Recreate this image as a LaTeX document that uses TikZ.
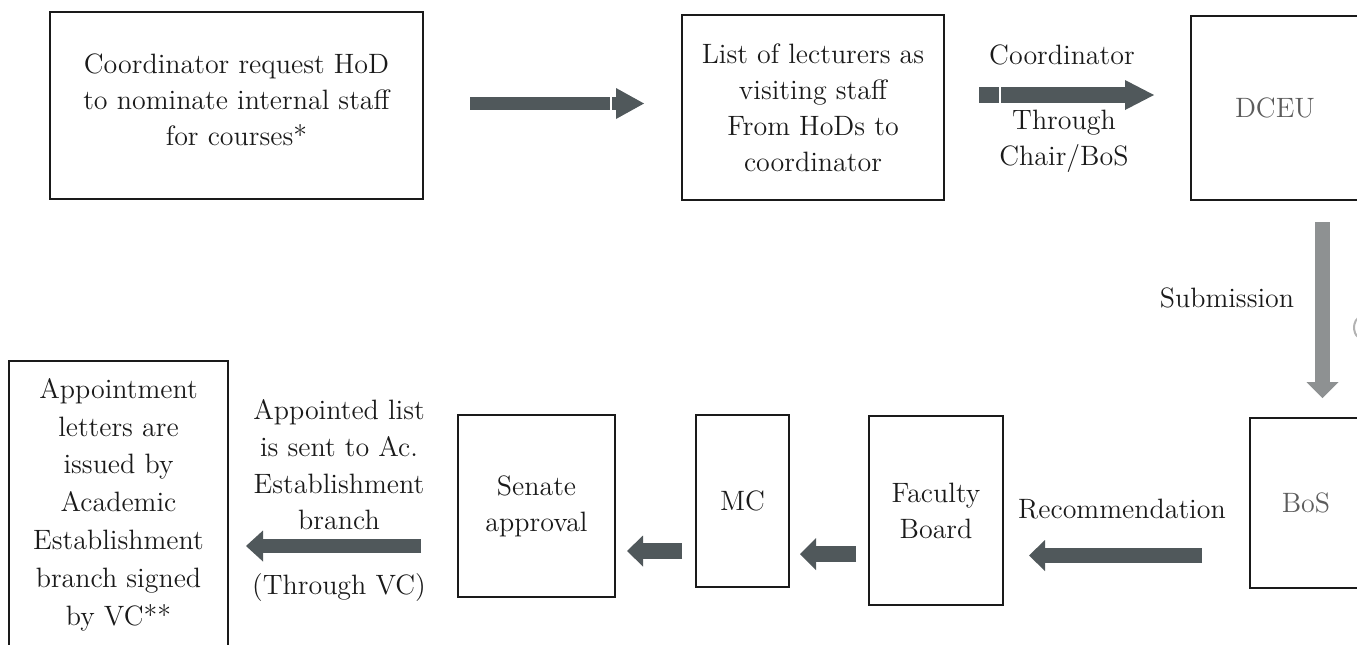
\documentclass[tikz,border=0pt]{standalone}
\usetikzlibrary{arrows.meta}
\definecolor{ink}{HTML}{1A1A1A}
\definecolor{soft}{HTML}{5C5C5C}
\definecolor{arrowdark}{HTML}{50585B}
\definecolor{arrowlight}{HTML}{8E9192}
\begin{document}
\begin{tikzpicture}[x=0.5pt,y=-0.5pt,
  every node/.style={font=\fontsize{14}{18}\selectfont, text=ink},
  box/.style={draw=ink, line width=1.2pt, inner sep=0pt, align=center},
  lbl/.style={align=center, inner sep=0pt},
  seam/.style={draw=white, line width=0.8pt},
  % block arrow: shaft width, head width, head length, colour
  blockarrow/.style n args={4}{draw=#4, line width=#1,
    -{Triangle[width=#2, length=#3, line width=0pt]}}]

\useasboundingbox (0,0) rectangle (1357,644);
\clip (0,0) rectangle (1357,644);

% ---- top row ----
\node[box, minimum width=186.5pt, minimum height=93.5pt] (req) at (236.5,105.5)
  {Coordinator request HoD\\to nominate internal staff\\for courses*\\[-12pt]};
\node[box, minimum width=131pt, minimum height=92.5pt] (list) at (813,107.5)
  {List of lecturers as\\visiting staff\\From HoDs to\\coordinator};
\node[box, minimum width=84pt, minimum height=92pt, text=soft] (dceu) at (1275,108) {DCEU};

\node[lbl] (lcoord) at (1062,55) {Coordinator};
\node[lbl] (lchair) at (1064,141) {Through\\Chair/BoS};
\node[lbl] (lsub) at (1227,298) {Submission};
% partly visible bracket at the right edge
\draw[gray!60, line width=1pt] (1358,318) arc[start angle=120, end angle=240, x radius=8, y radius=-11];

% ---- bottom row ----
\node[box, minimum width=56pt, minimum height=85pt, text=soft] (bos) at (1306,503) {BoS};
\node[box, minimum width=67pt, minimum height=94.5pt] (fb) at (936,510.5) {Faculty\\Board};
\node[box, minimum width=46.5pt, minimum height=86pt] (mc) at (742.5,501) {MC};
\node[box, minimum width=78.5pt, minimum height=91pt] (senate) at (536.5,506) {Senate\\approval};
\node[box, minimum width=109.5pt, minimum height=143.5pt,
  font=\fontsize{14}{18.9}\selectfont] (letters) at (118.5,504.5)
  {Appointment\\letters are\\issued by\\Academic\\Establishment\\branch signed\\by VC**};

\node[lbl] (lrec) at (1122,509) {Recommendation};
\node[lbl, font=\fontsize{14}{18.3}\selectfont] (lsent) at (339,465)
  {Appointed list\\is sent to Ac.\\Establishment\\branch};
\node[lbl] (lvc) at (339,588) {(Through VC)};

% ---- arrow ends ----
\coordinate (a1s) at (470,103.5);  \coordinate (a1e) at (644,103.5);
\coordinate (a2s) at (979,95);     \coordinate (a2e) at (1154,95);
\coordinate (a3s) at (1322.5,222); \coordinate (a3e) at (1322.5,398);
\coordinate (a4s) at (1202,555.5); \coordinate (a4e) at (1029,555.5);
\coordinate (a5s) at (856,554);    \coordinate (a5e) at (800,554);
\coordinate (a6s) at (682,551);    \coordinate (a6e) at (627,551);
\coordinate (a7s) at (421,546);    \coordinate (a7e) at (246,546);

\draw[blockarrow={6.5pt}{15.5pt}{14pt}{arrowdark}] (a1s) -- (a1e);
\draw[blockarrow={8pt}{15pt}{14.5pt}{arrowdark}] (a2s) -- (a2e);
\draw[blockarrow={7.5pt}{16pt}{8pt}{arrowlight}] (a3s) -- (a3e);
\draw[blockarrow={7.5pt}{15.5pt}{8pt}{arrowdark}] (a4s) -- (a4e);
\draw[blockarrow={8pt}{16pt}{8pt}{arrowdark}] (a5s) -- (a5e);
\draw[blockarrow={8pt}{15.5pt}{8pt}{arrowdark}] (a6s) -- (a6e);
\draw[blockarrow={7pt}{15.5pt}{8.5pt}{arrowdark}] (a7s) -- (a7e);

% thin joins in the two top shafts
\draw[seam] (611,96) -- (611,111);
\draw[seam] (1000,86) -- (1000,104);
\end{tikzpicture}
\end{document}
